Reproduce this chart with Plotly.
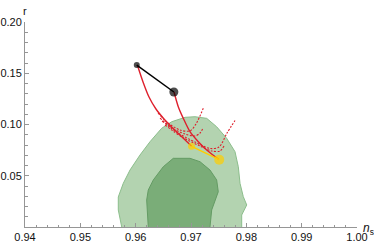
import plotly.graph_objects as go

# Contours (n_s, r)
outer_ns = [0.95748, 0.95686, 0.95686, 0.95776, 0.95898, 0.96078, 0.96259, 0.96470, 0.96651, 0.96892,
            0.97072, 0.97284, 0.97464, 0.97645, 0.97795, 0.97855, 0.97886, 0.97945, 0.98007, 0.97916, 0.97916]
outer_r = [0.0, 0.0166, 0.0293, 0.0426, 0.0556, 0.0702, 0.0832, 0.0963, 0.1027, 0.1070,
           0.1076, 0.1060, 0.0978, 0.0865, 0.0735, 0.0588, 0.0426, 0.0296, 0.0215, 0.0117, 0.0]
inner_ns = [0.96228, 0.96199, 0.96228, 0.96319, 0.96499, 0.96680, 0.96982, 0.97163, 0.97343, 0.97464,
            0.97493, 0.97434, 0.97374, 0.97343]
inner_r = [0.0, 0.0263, 0.0361, 0.0459, 0.0588, 0.0670, 0.0670, 0.0637, 0.0556, 0.0459,
           0.0344, 0.0247, 0.0166, 0.0]

# Solid red curves
c1_ns = [0.96030, 0.96133, 0.96241, 0.96367, 0.96512, 0.96657, 0.96819, 0.97012]
c1_r = [0.1580, 0.1415, 0.1268, 0.1151, 0.1054, 0.0971, 0.0888, 0.0787]
c2_ns = [0.96693, 0.96770, 0.96861, 0.96982, 0.97132, 0.97284, 0.97506]
c2_r = [0.1317, 0.1174, 0.1060, 0.0930, 0.0832, 0.0751, 0.0657]

# Dashed red curves
d1_ns = [0.96404, 0.96584, 0.96801, 0.96982, 0.97090, 0.97222]
d1_r = [0.1112, 0.1015, 0.0946, 0.0937, 0.1005, 0.1158]
d2_ns = [0.96440, 0.96657, 0.96892, 0.97072, 0.97163, 0.97217]
d2_r = [0.1063, 0.0966, 0.0907, 0.0888, 0.0917, 0.0966]
d3_ns = [0.96477, 0.96765, 0.97072, 0.97343, 0.97506, 0.97651, 0.97795]
d3_r = [0.1034, 0.0917, 0.0829, 0.0766, 0.0780, 0.0917, 0.1039]
d4_ns = [0.96530, 0.96837, 0.97163, 0.97379, 0.97524, 0.97596]
d4_r = [0.0995, 0.0878, 0.0790, 0.0741, 0.0741, 0.0790]

# Black and yellow segments
black_ns = [0.9602, 0.9669]
black_r = [0.158, 0.1317]
yellow_ns = [0.9701, 0.9751]
yellow_r = [0.0787, 0.0657]

x_ticks = [0.94, 0.95, 0.96, 0.97, 0.98, 0.99, 1.00]
x_labels = ["0.94", "0.95", "0.96", "0.97", "0.98", "0.99", "1.00"]
y_ticks = [0.05, 0.10, 0.15, 0.20]
y_labels = ["0.05", "0.10", "0.15", "0.20"]

RED = "rgb(222,32,44)"
FONT = "Liberation Sans, Arial"
fig = go.Figure()
fig.add_trace(go.Scatter(x=outer_ns, y=outer_r, fill="toself", mode="lines",
                         fillcolor="rgb(179,211,176)", line=dict(color="rgb(140,190,140)", width=1)))
fig.add_trace(go.Scatter(x=inner_ns, y=inner_r, fill="toself", mode="lines",
                         fillcolor="rgb(122,173,120)", line=dict(color="rgb(100,155,100)", width=1)))
for xs, ys in [(d1_ns, d1_r), (d2_ns, d2_r), (d3_ns, d3_r), (d4_ns, d4_r)]:
    fig.add_trace(go.Scatter(x=xs, y=ys, mode="lines",
                             line=dict(color=RED, width=1.1, dash="2px,1.5px", shape="spline", smoothing=0.8)))
for xs, ys in [(c1_ns, c1_r), (c2_ns, c2_r)]:
    fig.add_trace(go.Scatter(x=xs, y=ys, mode="lines",
                             line=dict(color=RED, width=1.4, shape="spline", smoothing=0.8)))
fig.add_trace(go.Scatter(x=black_ns, y=black_r, mode="lines+markers",
                         line=dict(color="black", width=1.5),
                         marker=dict(color="black", size=[6, 9], line=dict(width=0))))
fig.add_trace(go.Scatter(x=yellow_ns, y=yellow_r, mode="lines+markers",
                         line=dict(color="rgb(255,205,0)", width=1.5),
                         marker=dict(color="rgb(255,205,0)", size=[7, 10], line=dict(width=0))))

axis_common = dict(showgrid=False, zeroline=False, showline=True, linecolor="rgb(150,150,150)",
                   linewidth=1, ticks="inside", ticklen=4, tickcolor="rgb(150,150,150)",
                   tickfont=dict(family=FONT, size=11, color="#111"),
                   layer="above traces", automargin=False)
fig.update_xaxes(range=[0.94, 1.0], tickvals=x_ticks, ticktext=x_labels,
                 minor=dict(dtick=0.002, ticks="inside", ticklen=2.5, tickcolor="rgb(150,150,150)"),
                 **axis_common)
fig.update_yaxes(range=[0, 0.2], tickvals=y_ticks, ticktext=y_labels,
                 minor=dict(dtick=0.01, ticks="inside", ticklen=2.5, tickcolor="rgb(150,150,150)"),
                 **axis_common)
fig.update_layout(width=374, height=249, margin=dict(l=25, r=17, t=22, b=22),
                  plot_bgcolor="white", paper_bgcolor="white", showlegend=False,
                  hovermode=False,
                  annotations=[
                      dict(text="r", xref="paper", yref="paper", x=0.0, y=1.0, yshift=11,
                           xanchor="center", yanchor="middle",
                           showarrow=False, font=dict(family=FONT, size=11, color="#111")),
                      dict(text="<i>n</i><sub>s</sub>", xref="paper", yref="paper", x=1.0, y=0.0,
                           xshift=4, yshift=-2, xanchor="left", yanchor="middle", showarrow=False,
                           font=dict(family=FONT, size=12, color="#111")),
                  ])
fig.write_html("out.html", config={"displayModeBar": False, "staticPlot": True},
               post_script="document.body.style.margin='0';document.body.style.padding='0';")
